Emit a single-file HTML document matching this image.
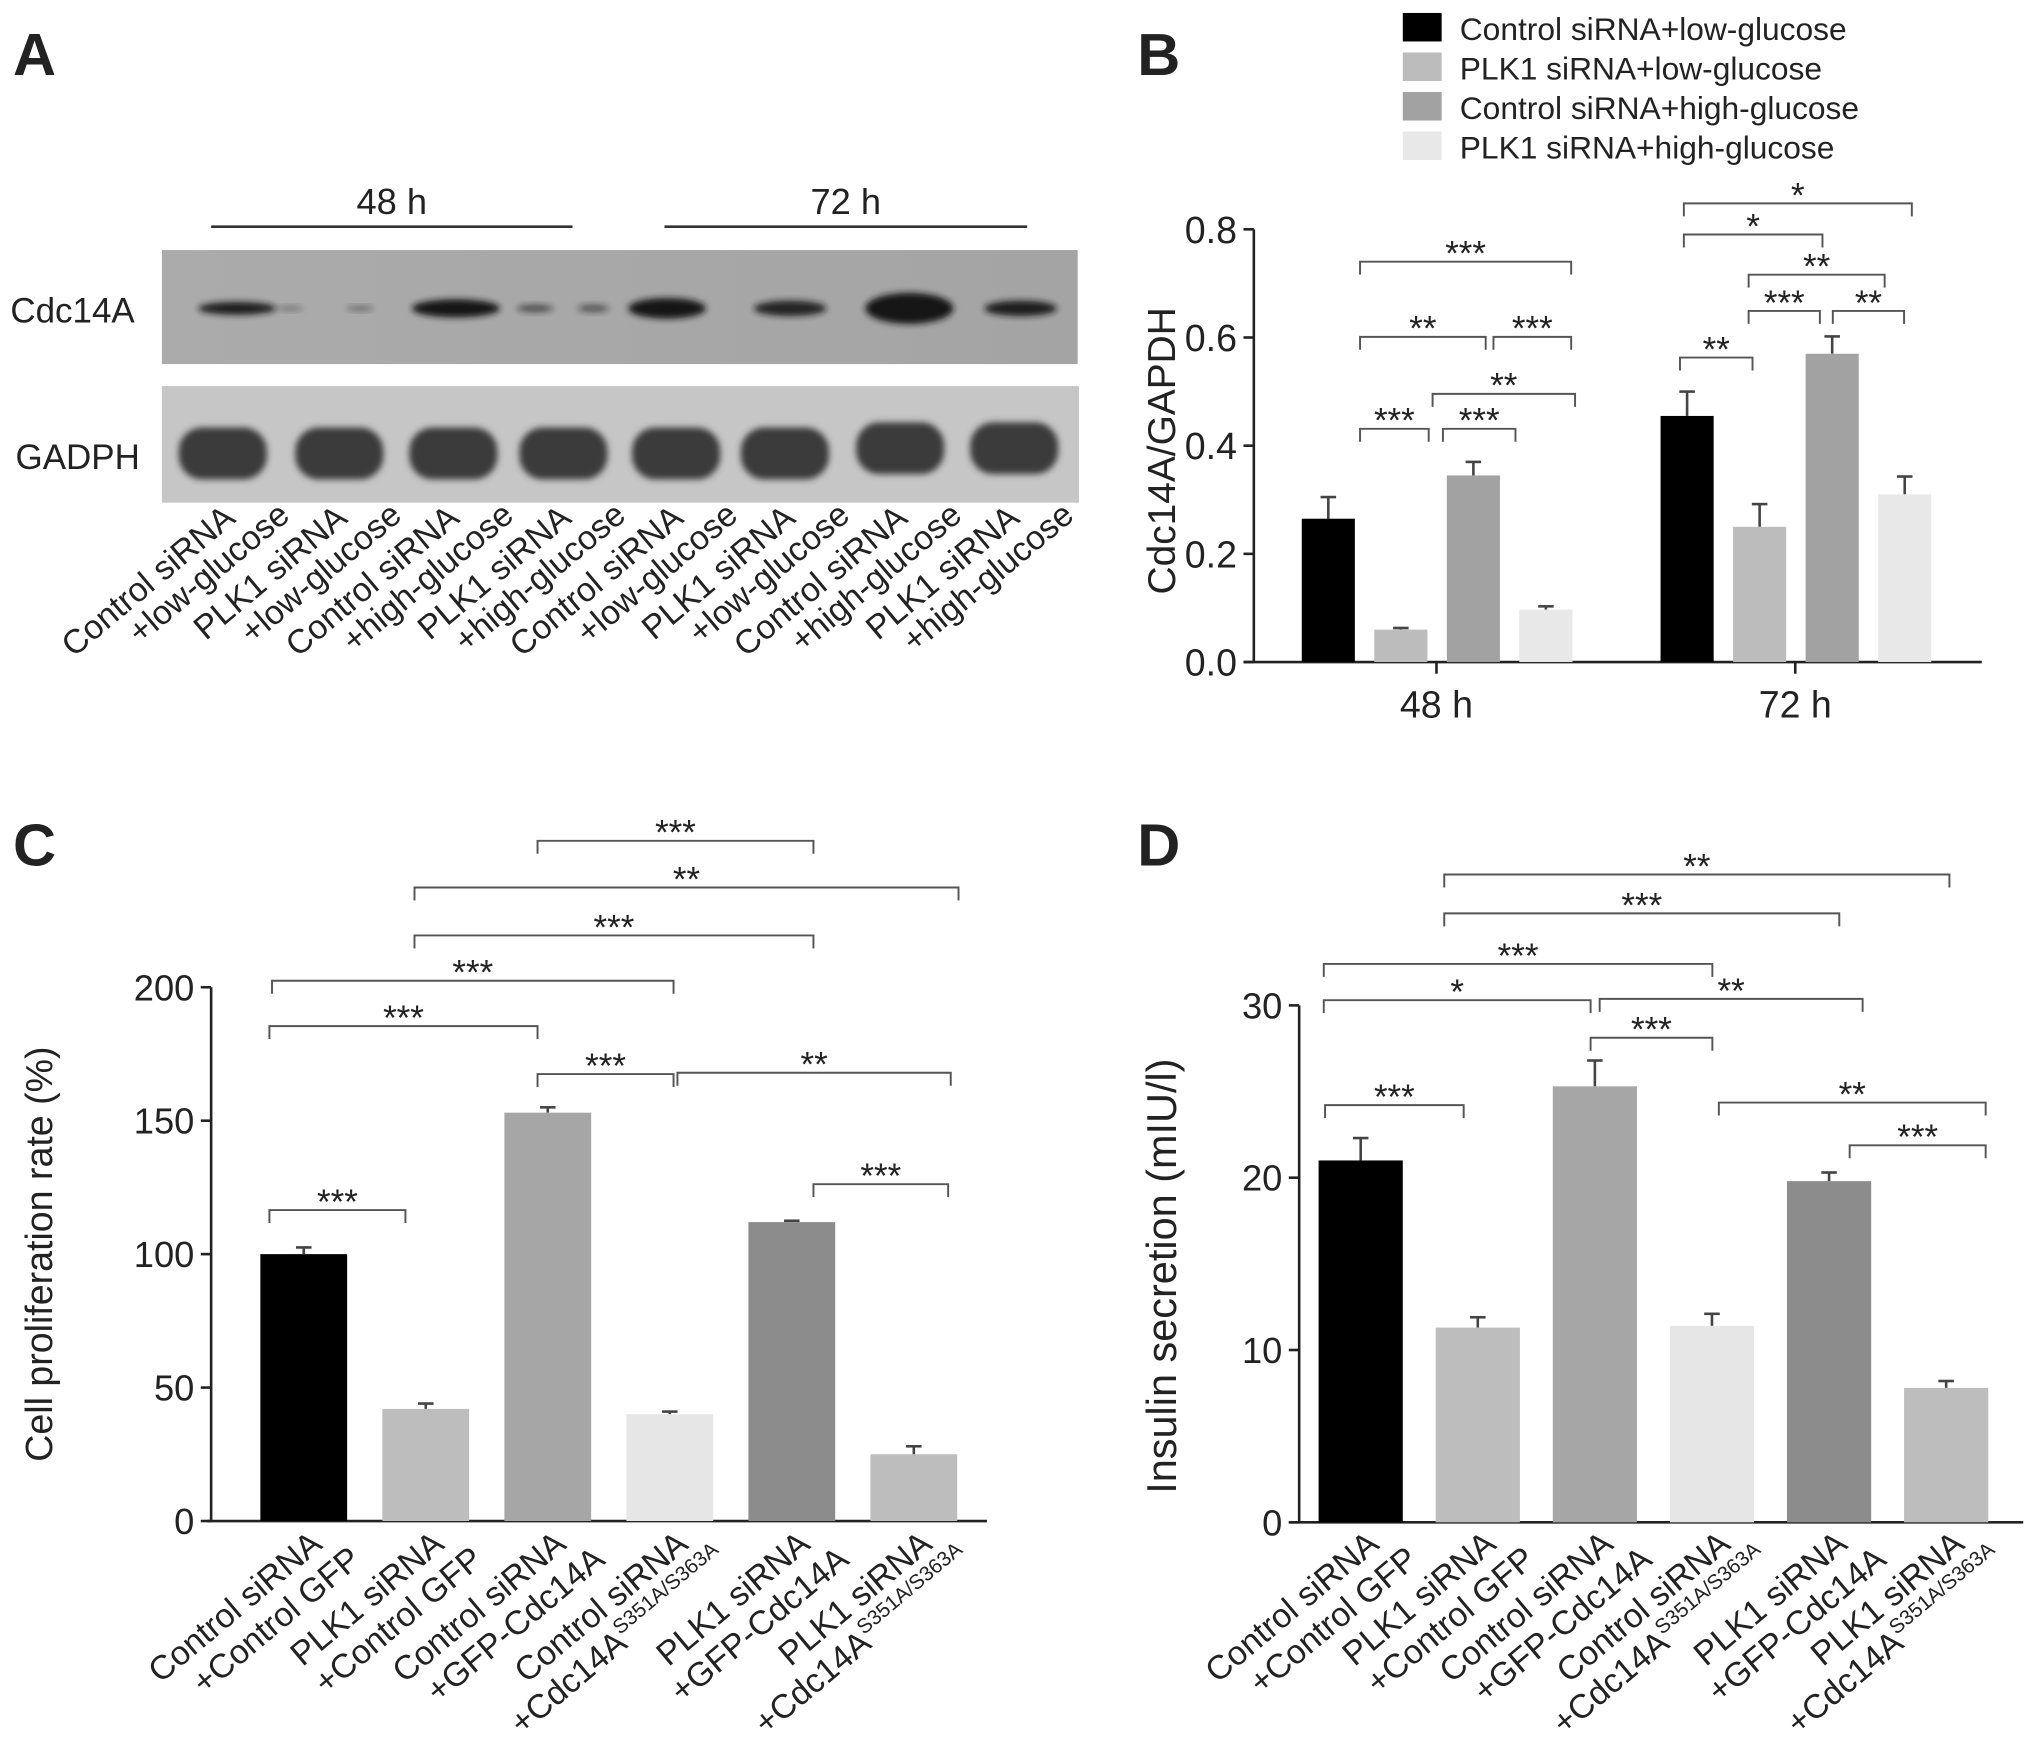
<!DOCTYPE html>
<html><head><meta charset="utf-8"><style>
html,body{margin:0;padding:0;background:#fff}
svg{display:block}
text{font-family:"Liberation Sans",Arial,sans-serif;fill:#222}
</style></head><body>
<svg id="fig" width="2031" height="1762" viewBox="0 0 1568 1360" preserveAspectRatio="none" xmlns="http://www.w3.org/2000/svg">
<defs>
<filter id="blur" x="-20%" y="-50%" width="140%" height="200%"><feGaussianBlur stdDeviation="2.5"/></filter>
<linearGradient id="blotg" x1="0" y1="0" x2="1" y2="0"><stop offset="0" stop-color="#ababab"/><stop offset="1" stop-color="#a4a4a4"/></linearGradient>
</defs>
<g id="root"></g>
</svg>
<script>
// ---- Panel B data ----
const bGroups = ["48 h", "72 h"];
const bSeries = ["Control siRNA+low-glucose", "PLK1 siRNA+low-glucose", "Control siRNA+high-glucose", "PLK1 siRNA+high-glucose"];
const b48 = [0.265, 0.060, 0.345, 0.097];
const b48err = [0.040, 0.003, 0.025, 0.006];
const b72 = [0.455, 0.250, 0.570, 0.310];
const b72err = [0.045, 0.042, 0.032, 0.033];
const bTicks = ["0.0", "0.2", "0.4", "0.6", "0.8"];
// ---- Panel C data ----
const cValues = [100, 42, 153, 40, 112, 25];
const cErr = [2.5, 2, 2, 1, 0.5, 3];
const cTicks = ["0", "50", "100", "150", "200"];
// ---- Panel D data ----
const dValues = [21.0, 11.3, 25.3, 11.4, 19.8, 7.8];
const dErr = [1.3, 0.6, 1.5, 0.7, 0.5, 0.4];
const dTicks = ["0", "10", "20", "30"];
const catLine1 = ["Control siRNA", "PLK1 siRNA", "Control siRNA", "Control siRNA", "PLK1 siRNA", "PLK1 siRNA"];
const catLine2 = ["+Control GFP", "+Control GFP", "+GFP-Cdc14A", "+Cdc14A", "+GFP-Cdc14A", "+Cdc14A"];
const catSup = ["", "", "", "S351A/S363A", "", "S351A/S363A"];

const NS = "http://www.w3.org/2000/svg";
const root = document.getElementById("root");
function mk(tag, attrs, parent) {
  const e = document.createElementNS(NS, tag);
  for (const k in attrs) e.setAttribute(k, attrs[k]);
  (parent || root).appendChild(e);
  return e;
}
function txt(s, attrs, parent) { const t = mk("text", attrs, parent); t.textContent = s; return t; }

// ===== Panel letters =====
[["A", 10, 58], ["B", 878, 58], ["C", 10, 668], ["D", 878, 668]].forEach(p => {
  const t = txt(p[0], {x: p[1], y: p[2], "font-size": 46, "font-weight": "bold", fill: "#111"});
  
  
});

// ===== Panel A: western blot =====
const gA = mk("g", {});


[["48 h", 163, 442], ["72 h", 513, 793]].forEach(l => {
  const ln = mk("line", {x1: l[1], x2: l[2], y1: 175, y2: 175, stroke: "#333", "stroke-width": 2}, gA);
  
  
  const t = txt(l[0], {x: (l[1] + l[2]) / 2, y: 165, "font-size": 28, "text-anchor": "middle"}, gA);
  
  
});
const blot1 = mk("rect", {x: 125, y: 193, width: 707, height: 88, fill: "url(#blotg)"}, gA);


const blot2 = mk("rect", {x: 125, y: 298, width: 708, height: 90, fill: "#c6c6c6"}, gA);


let t1 = txt("Cdc14A", {x: 8, y: 249, "font-size": 27}, gA);


let t2 = txt("GADPH", {x: 12, y: 362, "font-size": 27}, gA);


const cdcBands = [[183, 30, 5, 0.95], [224, 10, 2, 0.35], [278, 10, 2, 0.45], [352, 34, 7, 1], [413, 14, 3, 0.6], [458, 12, 3, 0.55], [515, 30, 8, 1], [610, 28, 6, 0.9], [702, 34, 12, 1], [788, 28, 6, 0.95]];
cdcBands.forEach(b => {
  const e = mk("ellipse", {cx: b[0], cy: 238, rx: b[1], ry: b[2], fill: "#151515", opacity: b[3], filter: "url(#blur)"}, gA);
  
  
});
const gBands = [172, 262, 350, 435, 522, 606, 695, 783];
gBands.forEach((cx, i) => {
  const e = mk("rect", {x: cx - 34, y: 330 - (i > 5 ? 4 : 0), width: 68, height: 40, rx: 18, fill: "#3a3a3a", filter: "url(#blur)"}, gA);
  
  
});
const laneL1 = ["Control siRNA", "PLK1 siRNA", "Control siRNA", "PLK1 siRNA", "Control siRNA", "PLK1 siRNA", "Control siRNA", "PLK1 siRNA"];
const laneL2 = ["+low-glucose", "+low-glucose", "+high-glucose", "+high-glucose", "+low-glucose", "+low-glucose", "+high-glucose", "+high-glucose"];
laneL1.forEach((s, i) => {
  const x = 183 + i * 86.5, y = 402;
  const a = txt(s, {x: x, y: y, "font-size": 26, "text-anchor": "end", transform: `rotate(-40 ${x} ${y})`}, gA);
  
  
  const x2 = x + 42, y2 = 400;
  const b = txt(laneL2[i], {x: x2, y: y2, "font-size": 26, "text-anchor": "end", transform: `rotate(-40 ${x2} ${y2})`}, gA);
  
  
});

// ===== generic helpers =====
function bracket(x1, x2, y, label, g) {
  const p = mk("path", {d: `M${x1} ${y + 10}V${y}H${x2}V${y + 10}`, fill: "none", stroke: "#555", "stroke-width": 1.5}, g);
  
  
  const t = txt(label, {x: (x1 + x2) / 2, y: y + 3, "font-size": 27, "text-anchor": "middle", fill: "#333"}, g);
  
  
}
function drawBar(x, w, v, e, color, ys, g, name) {
  const y = ys(v), y0 = ys(0), ye = ys(v + e);
  const el = mk("line", {x1: x + w / 2, x2: x + w / 2, y1: y, y2: ye, stroke: "#444", "stroke-width": 2}, g);
  
  
  const ec = mk("line", {x1: x + w / 2 - 6, x2: x + w / 2 + 6, y1: ye, y2: ye, stroke: "#444", "stroke-width": 2}, g);
  
  
  const r = mk("rect", {x: x, y: y, width: w, height: y0 - y, fill: color}, g);
  
  
}
function yAxis(ax, yTop, yBot, ticks, ys, step, g, fs) {
  const l = mk("line", {x1: ax, x2: ax, y1: yTop, y2: yBot, stroke: "#222", "stroke-width": 2}, g);
  
  
  ticks.forEach((s, i) => {
    const y = ys(i * step);
    const tk = mk("line", {x1: ax - 8, x2: ax, y1: y, y2: y, stroke: "#222", "stroke-width": 2}, g);
    
    
    const t = txt(s, {x: ax - 13, y: y + fs * 0.36, "font-size": fs, "text-anchor": "end", fill: "#222"}, g);
    
    
  });
}

// ===== Panel B =====
const gB = mk("g", {});


const bColors = ["#000", "#bcbcbc", "#a2a2a2", "#e8e8e8"];
const yB = v => 511 - v / 0.8 * 334;
bSeries.forEach((s, i) => {
  const y = 10 + i * 30.5;
  const sw = mk("rect", {x: 1083, y: y, width: 30, height: 22, fill: bColors[i]}, gB);
  
  
  const t = txt(s, {x: 1127, y: y + 21, "font-size": 24.5, fill: "#333"}, gB);
  
  
});
yAxis(968, 177, 511, bTicks, yB, 0.2, gB, 29);
const bxAxis = mk("line", {x1: 960, x2: 1530, y1: 511, y2: 511, stroke: "#222", "stroke-width": 2}, gB);


const bStarts = [1005, 1282];
[b48, b72].forEach((vals, gi) => {
  const errs = gi === 0 ? b48err : b72err;
  vals.forEach((v, i) => drawBar(bStarts[gi] + i * 56, 41, v, errs[i], bColors[i], yB, gB, 'bar-' + bGroups[gi].replace(' ', '') + '-' + i));
  const cx = bStarts[gi] + 1.5 * 56 + 20;
  const tk = mk("line", {x1: cx, x2: cx, y1: 511, y2: 520, stroke: "#222", "stroke-width": 2}, gB);
  
  
  const t = txt(bGroups[gi], {x: cx, y: 554, "font-size": 29, "text-anchor": "middle", fill: "#222"}, gB);
  
  
});
const bTitle = txt("Cdc14A/GAPDH", {x: 0, y: 0, "font-size": 30, "text-anchor": "middle", fill: "#222", transform: "translate(907 348) rotate(-90)"}, gB);


[[1050, 1213, 202, "***"], [1050, 1147, 260, "**"], [1153, 1213, 260, "***"], [1106, 1216, 304, "**"], [1050, 1103, 331, "***"], [1114, 1170, 331, "***"],
 [1300, 1476, 157, "*"], [1300, 1407, 181, "*"], [1350, 1455, 212, "**"], [1350, 1405, 240, "***"], [1415, 1470, 240, "**"], [1297, 1353, 276, "**"]]
 .forEach(b => bracket(b[0], b[1], b[2], b[3], gB));

// ===== category labels =====
function catLabels(centers, g) {
  centers.forEach((cx, i) => {
    const x = cx + 16, y = 1194;
    const a = txt(catLine1[i], {x: x, y: y, "font-size": 26, "text-anchor": "end", fill: "#333", transform: `rotate(-40 ${x} ${y})`}, g);
    
    
    const x2 = x + 30, y2 = y + 12;
    const b = txt(catLine2[i], {x: x2, y: y2, "font-size": 26, "text-anchor": "end", fill: "#333", transform: `rotate(-40 ${x2} ${y2})`}, g);
    if (catSup[i]) {
      const sp = mk("tspan", {"font-size": 16, dy: -11}, b);
      sp.textContent = catSup[i];
    }
    
    
  });
}

// ===== Panel C =====
const gC = mk("g", {});


const cdColors = ["#000", "#bdbdbd", "#a6a6a6", "#e6e6e6", "#8c8c8c", "#bdbdbd"];
const yC = v => 1174 - v / 200 * 412;
yAxis(163, 762, 1174, cTicks, yC, 50, gC, 28);
const cx = mk("line", {x1: 160, x2: 762, y1: 1174, y2: 1174, stroke: "#222", "stroke-width": 2}, gC);


const cCenters = [];
cValues.forEach((v, i) => {
  const x = 201 + i * 94.2;
  cCenters.push(x + 33);
  drawBar(x, 67, v, cErr[i], cdColors[i], yC, gC, 'bar-c-' + i);
});
catLabels(cCenters, gC);
const cTitle = txt("Cell proliferation rate (%)", {x: 0, y: 0, "font-size": 29, "text-anchor": "middle", fill: "#222", transform: "translate(40 968) rotate(-90)"}, gC);


[[208, 313, 934, "***"], [208, 415, 792, "***"], [210, 520, 757, "***"], [415, 520, 829, "***"], [523, 734, 828, "**"], [628, 732, 914, "***"],
 [320, 628, 722, "***"], [320, 740, 685, "**"], [415, 628, 649, "***"]].forEach(b => bracket(b[0], b[1], b[2], b[3], gC));

// ===== Panel D =====
const gD = mk("g", {});


const yD = v => 1175 - v / 30 * 399;
yAxis(1003, 776, 1175, dTicks, yD, 10, gD, 28);
const dx = mk("line", {x1: 995, x2: 1562, y1: 1175, y2: 1175, stroke: "#222", "stroke-width": 2}, gD);


const dCenters = [];
dValues.forEach((v, i) => {
  const x = 1018 + i * 90.4;
  dCenters.push(x + 32);
  drawBar(x, 65, v, dErr[i], cdColors[i], yD, gD, 'bar-d-' + i);
});
catLabels(dCenters, gD);
const dTitle = txt("Insulin secretion (mIU/l)", {x: 0, y: 0, "font-size": 32, "text-anchor": "middle", fill: "#222", transform: "translate(908 985) rotate(-90)"}, gD);


[[1023, 1130, 853, "***"], [1022, 1228, 772, "*"], [1022, 1322, 744, "***"], [1228, 1322, 801, "***"], [1235, 1438, 771, "**"], [1327, 1533, 851, "**"],
 [1428, 1533, 884, "***"], [1115, 1420, 705, "***"], [1115, 1505, 675, "**"]].forEach(b => bracket(b[0], b[1], b[2], b[3], gD));
</script>
</body></html>
